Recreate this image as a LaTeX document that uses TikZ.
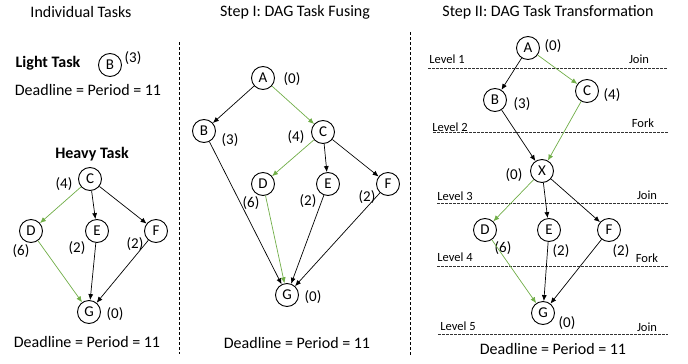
\documentclass[tikz,border=0pt]{standalone}
\usepackage{fontspec}
\setmainfont{Carlito}
\usetikzlibrary{arrows.meta}
\definecolor{tgreen}{RGB}{112,173,71}
\tikzset{
  task/.style={circle,draw,line width=0.9pt,minimum size=23pt,inner sep=0pt,font=\fontsize{15}{15}\selectfont},
  wt/.style={font=\fontsize{15}{15}\selectfont,inner sep=0pt},
  ttl/.style={font=\fontsize{16}{16}\selectfont,inner sep=0pt},
  bttl/.style={font=\fontsize{16}{16}\selectfont\bfseries,inner sep=0pt},
  dl/.style={font=\fontsize{16}{16}\selectfont,inner sep=0pt},
  lvl/.style={font=\fontsize{12.5}{13}\selectfont,inner sep=0pt},
  edge/.style={line width=0.7pt,-{Latex[length=6pt,width=5pt]}},
  gedge/.style={edge,draw=tgreen},
  sep/.style={line width=0.8pt,dash pattern=on 3pt off 2pt},
  lvline/.style={line width=0.7pt,dash pattern=on 2.5pt off 1.5pt,draw=black!80}
}
\begin{document}
\begin{tikzpicture}[x=1pt,y=-1pt]
\useasboundingbox (0,0) rectangle (688,364);
% separators
\coordinate (s1t) at (179,42); \coordinate (s1b) at (179,354);
\coordinate (s2t) at (410,32); \coordinate (s2b) at (410,356);
\draw[sep] (s1t) -- (s1b);
\draw[sep] (s2t) -- (s2b);
% titles
\node[ttl] (t1) at (81,12) {Individual Tasks};
\node[ttl] (t2) at (295,12) {Step I: DAG Task Fusing};
\node[ttl] (t3) at (548,12) {Step II: DAG Task Transformation};
% ---------- panel 1
\node[bttl] (lt) at (48,63) {Light Task};
\node[task] (p1b) at (110,65) {B};
\node[wt] (p1bw) at (133,58) {(3)};
\node[dl] (dl1a) at (88,90) {Deadline = Period = 11};
\node[bttl] (ht) at (92,154) {Heavy Task};
\node[task] (p1c) at (90,179) {C};
\node[wt] at (64,184) {(4)};
\node[task] (p1d) at (31,231) {D};
\node[wt] at (21,251) {(6)};
\node[task] (p1e) at (97,231) {E};
\node[wt] at (77,248) {(2)};
\node[task] (p1f) at (156,231) {F};
\node[wt] at (135,244) {(2)};
\node[task] (p1g) at (89,312) {G};
\node[wt] at (115,314) {(0)};
\node[dl] (dl1b) at (87,342) {Deadline = Period = 11};
\draw[gedge] (p1c) -- (p1d);
\draw[edge] (p1c) -- (p1e);
\draw[edge] (p1c) -- (p1f);
\draw[gedge] (p1d) -- (p1g);
\draw[edge] (p1e) -- (p1g);
\draw[edge] (p1f) -- (p1g);
% ---------- panel 2
\node[task] (p2a) at (263,78) {A};
\node[wt] at (292,79) {(0)};
\node[task] (p2b) at (204,131) {B};
\node[wt] at (230,140) {(3)};
\node[task] (p2c) at (323,132) {C};
\node[wt] at (296,137) {(4)};
\node[task] (p2d) at (263,184) {D};
\node[wt] at (251,203) {(6)};
\node[task] (p2e) at (328,184) {E};
\node[wt] at (308,201) {(2)};
\node[task] (p2f) at (388,184) {F};
\node[wt] at (367,197) {(2)};
\node[task] (p2g) at (287,295) {G};
\node[wt] at (313,297) {(0)};
\node[dl] (dl2) at (297,343) {Deadline = Period = 11};
\draw[edge] (p2a) -- (p2b);
\draw[gedge] (p2a) -- (p2c);
\draw[edge] (p2b) -- (p2g);
\draw[gedge] (p2c) -- (p2d);
\draw[edge] (p2c) -- (p2e);
\draw[edge] (p2c) -- (p2f);
\draw[gedge] (p2d) -- (p2g);
\draw[edge] (p2e) -- (p2g);
\draw[edge] (p2f) -- (p2g);
% ---------- panel 3
\coordinate (l1a) at (428,68);  \coordinate (l1b) at (668,68);
\coordinate (l2a) at (433,132); \coordinate (l2b) at (668,132);
\coordinate (l3a) at (437,203); \coordinate (l3b) at (668,203);
\coordinate (l4a) at (437,266); \coordinate (l4b) at (668,266);
\coordinate (l5a) at (438,334); \coordinate (l5b) at (668,334);
\draw[lvline] (l1a) -- (l1b);
\draw[lvline] (l2a) -- (l2b);
\draw[lvline] (l3a) -- (l3b);
\draw[lvline] (l4a) -- (l4b);
\draw[lvline] (l5a) -- (l5b);
\node[lvl] at (447,59) {Level 1};
\node[lvl] at (639,59) {Join};
\node[lvl] at (450,127) {Level 2};
\node[lvl] at (643,123) {Fork};
\node[lvl] at (455,196) {Level 3};
\node[lvl] at (647,195) {Join};
\node[lvl] at (455,257) {Level 4};
\node[lvl] at (647,258) {Fork};
\node[lvl] at (458,326) {Level 5};
\node[lvl] at (647,327) {Join};
\node[task] (p3a) at (528,48) {A};
\node[wt] at (553,46) {(0)};
\node[task] (p3b) at (495,100) {B};
\node[wt] at (522,104) {(3)};
\node[task] (p3c) at (587,91) {C};
\node[wt] at (612,95) {(4)};
\node[task] (p3x) at (542,171) {X};
\node[wt] at (514,175) {(0)};
\node[task] (p3d) at (485,230) {D};
\node[wt] at (503,248) {(6)};
\node[task] (p3e) at (549,230) {E};
\node[wt] at (561,251) {(2)};
\node[task] (p3f) at (609,230) {F};
\node[wt] at (621,251) {(2)};
\node[task] (p3g) at (543,313) {G};
\node[wt] at (567,323) {(0)};
\node[dl] (dl3) at (553,349) {Deadline = Period = 11};
\draw[edge] (p3a) -- (p3b);
\draw[gedge] (p3a) -- (p3c);
\draw[edge] (p3b) -- (p3x);
\draw[gedge] (p3c) -- (p3x);
\draw[gedge] (p3x) -- (p3d);
\draw[edge] (p3x) -- (p3e);
\draw[edge] (p3x) -- (p3f);
\draw[gedge] (p3d) -- (p3g);
\draw[edge] (p3e) -- (p3g);
\draw[edge] (p3f) -- (p3g);
\end{tikzpicture}
\end{document}
